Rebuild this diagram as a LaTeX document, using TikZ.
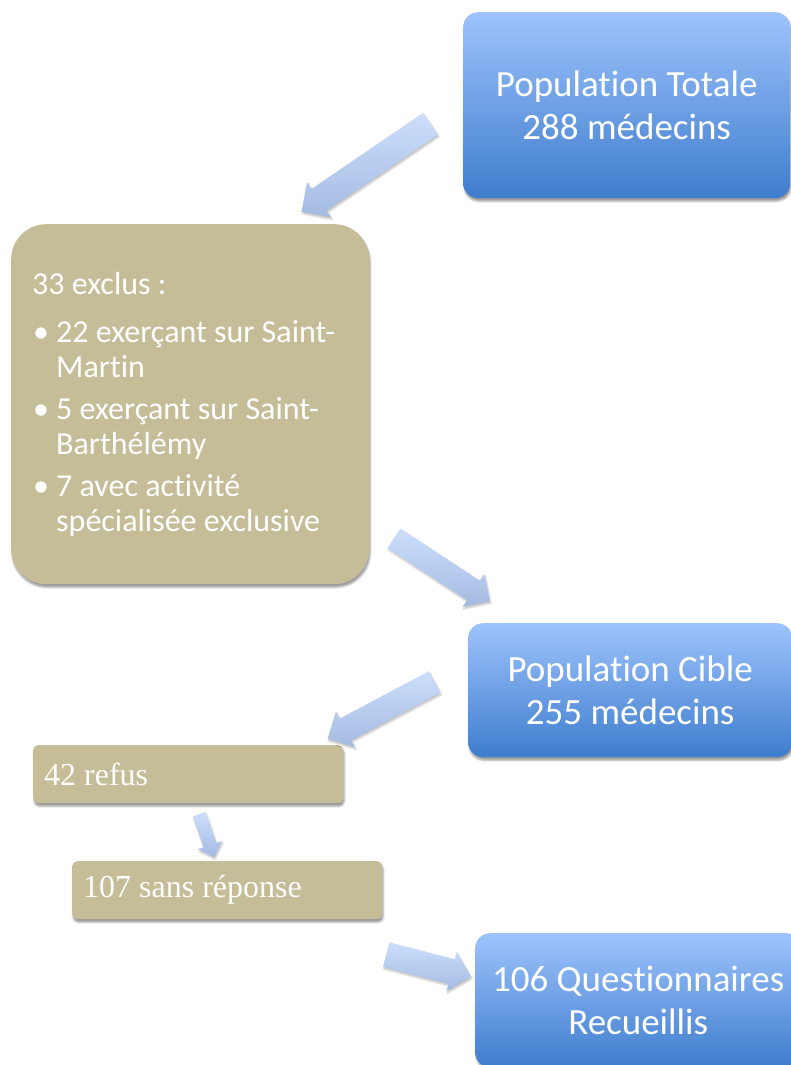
\documentclass[tikz,border=0pt]{standalone}
\usepackage{fontspec}
\setmainfont{Carlito}[RawFeature={-liga;-clig;-calt;-dlig}]
\newfontfamily\serifschrift{Liberation Serif}
\usetikzlibrary{calc,shapes.arrows,shadows.blur}

\definecolor{blauhell}{RGB}{158,195,252}
\definecolor{blaudunkel}{RGB}{62,125,205}
\definecolor{khaki}{RGB}{196,189,151}
\definecolor{pfeilhell}{RGB}{204,222,251}
\definecolor{pfeildunkel}{RGB}{164,187,226}

\def\wortabstand{\spaceskip=0pt\xspaceskip=0pt}
\def\punkt{\hangindent=24pt\hangafter=1\noindent\makebox[24pt][l]{\hspace{1pt}\textbullet}}
\def\pfeil#1#2#3#4{
	\path let \p1=($(#2)-(#1)$), \n1={veclen(\x1,\y1)}, \n2={atan2(\y1,\x1)} in
		node[pfeilform,minimum height=\n1,inner ysep=#3,single arrow head extend=#4,rotate=\n2] at ($(#1)!0.5!(#2)$) {};
}

\begin{document}
\begin{tikzpicture}[x=1pt,y=-1pt,
	blau/.style={rounded corners=15pt,top color=blauhell,bottom color=blaudunkel,text=white,align=center,
		font=\fontsize{37}{43}\selectfont,anchor=north west,blur shadow={shadow xshift=1pt,shadow yshift=-3pt}},
	khakibox/.style={fill=khaki,text=white,align=left,anchor=north west,blur shadow={shadow xshift=1pt,shadow yshift=-3pt}},
	pfeilform/.style={single arrow,inner xsep=0pt,top color=pfeilhell,bottom color=pfeildunkel,
		blur shadow={shadow xshift=1pt,shadow yshift=-2pt,shadow opacity=25}}]
\useasboundingbox (0,0) rectangle (791,1065);
% Kästen
\node[blau,minimum width=327pt,minimum height=186pt] (total) at (463,12) {Population Totale\\288 médecins};
\node[blau,minimum width=324pt,minimum height=134pt] (cible) at (468,623) {Population Cible\\255 médecins};
\node[blau,minimum width=326pt,minimum height=134pt] (recueillis) at (475,933) {106 Questionnaires\\Recueillis};
\node[khakibox,rounded corners=35pt,minimum width=358pt,minimum height=360pt,text width=316pt,inner xsep=21pt,
	font=\fontsize{32}{35}\selectfont] (exclus) at (11,224) {\wortabstand 33 exclus :\par\vspace{13pt}
	\punkt 22 exerçant sur Saint-\newline Martin\par\vspace{7pt}
	\punkt 5 exerçant sur Saint-\newline Barthélémy\par\vspace{7pt}
	\punkt 7 avec activité\newline spécialisée exclusive\par};
\node[khakibox,rounded corners=5pt,minimum width=310pt,minimum height=58pt,text width=288pt,inner xsep=11pt,
	font=\serifschrift\fontsize{32}{38}\selectfont] (refus) at (33,745) {\wortabstand 42 refus};
\node[khakibox,rounded corners=5pt,minimum width=310pt,minimum height=58pt,text width=288pt,inner xsep=11pt,
	font=\serifschrift\fontsize{32}{38}\selectfont] (sansrep) at (72,861) {\wortabstand 107 sans réponse};
% Pfeile
\coordinate (p1a) at (436,120);
\coordinate (p1b) at (307,208);
\coordinate (p2a) at (389,535);
\coordinate (p2b) at (485,598);
\coordinate (p3a) at (440,679);
\coordinate (p3b) at (333,736);
\coordinate (p4a) at (198,811);
\coordinate (p4b) at (213,854);
\coordinate (p5a) at (380,953);
\coordinate (p5b) at (465,975);
\pfeil{p1a}{p1b}{13pt}{8pt}
\pfeil{p2a}{p2b}{11.5pt}{8pt}
\pfeil{p3a}{p3b}{12pt}{8pt}
\pfeil{p4a}{p4b}{6.5pt}{6pt}
\pfeil{p5a}{p5b}{12.5pt}{7.5pt}
\end{tikzpicture}
\end{document}
